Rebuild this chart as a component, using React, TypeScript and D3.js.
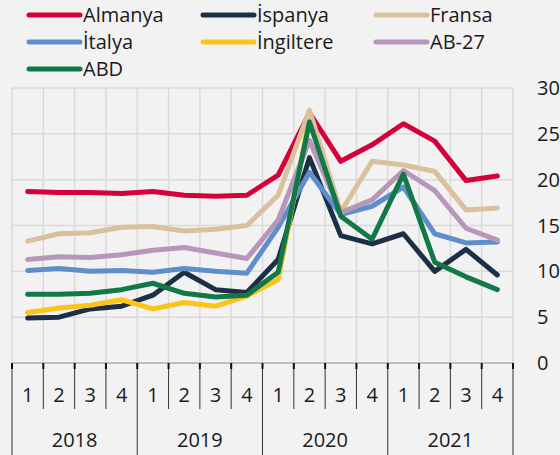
import * as d3 from "d3";

const WIDTH = 560;
const HEIGHT = 455;
const PLOT = { left: 12, right: 513, top: 88, bottom: 363 };

const quarters = ["1", "2", "3", "4"];
const years = ["2018", "2019", "2020", "2021"];
const yTicks = [0, 5, 10, 15, 20, 25, 30];

const almanya = [18.7, 18.6, 18.6, 18.5, 18.7, 18.3, 18.2, 18.3, 20.5, 27.3, 22.0, 23.8, 26.1, 24.2, 19.9, 20.4];
const ispanya = [4.9, 5.0, 5.9, 6.2, 7.4, 9.9, 8.0, 7.7, 11.3, 22.4, 13.9, 13.0, 14.1, 10.0, 12.4, 9.6];
const fransa = [13.3, 14.1, 14.2, 14.8, 14.9, 14.4, 14.6, 15.0, 18.3, 27.6, 16.5, 22.0, 21.6, 20.9, 16.7, 16.9];
const italya = [10.1, 10.3, 10.0, 10.1, 9.9, 10.3, 10.0, 9.8, 14.8, 20.8, 16.2, 17.1, 19.2, 14.1, 13.1, 13.2];
const ingiltere = [5.5, 6.0, 6.3, 6.9, 5.9, 6.6, 6.2, 7.3, 9.1, 26.8, 16.2];
const ab27 = [11.3, 11.6, 11.5, 11.8, 12.3, 12.6, 12.0, 11.4, 15.6, 24.3, 16.4, 17.8, 21.0, 18.8, 14.7, 13.4];
const abd = [7.5, 7.5, 7.6, 8.0, 8.7, 7.6, 7.2, 7.4, 9.9, 26.3, 16.0, 13.5, 20.6, 11.0, 9.4, 8.0];

const series = [
  { name: "Almanya", color: "#d5003a", values: almanya, col: 0, row: 0 },
  { name: "İspanya", color: "#1c2f45", values: ispanya, col: 1, row: 0 },
  { name: "İtalya", color: "#5e8fcb", values: italya, col: 0, row: 1 },
  { name: "İngiltere", color: "#fcc318", values: ingiltere, col: 1, row: 1 },
  { name: "Fransa", color: "#d9c19d", values: fransa, col: 2, row: 0 },
  { name: "AB-27", color: "#b797b9", values: ab27, col: 2, row: 1 },
  { name: "ABD", color: "#137848", values: abd, col: 0, row: 2 },
];

const FONT = "'Open Sans', 'Noto Sans', sans-serif";
const LEGEND_X = [29, 203, 376];
const LEGEND_Y = [15, 42, 69];

export default function App() {
  const periods = d3.range(years.length * quarters.length);

  const x = d3.scaleBand<number>().domain(periods).range([PLOT.left, PLOT.right]);
  const y = d3.scaleLinear().domain([0, 30]).range([PLOT.bottom, PLOT.top]);

  const line = d3
    .line<number>()
    .x((_, i) => (x(i) ?? 0) + x.bandwidth() / 2)
    .y((d) => y(d));

  // boundaries between quarters (17 of them)
  const bounds = d3.range(periods.length + 1).map((i) => PLOT.left + i * x.bandwidth());
  const bw = x.bandwidth();

  return (
    <svg
      width={WIDTH}
      height={HEIGHT}
      style={{ position: "absolute", top: 0, left: 0, background: "#f2f2f2" }}
      fontFamily={FONT}
    >
      {/* grid */}
      {yTicks.map((t) => (
        <line key={"h" + t} x1={PLOT.left} x2={PLOT.right} y1={y(t)} y2={y(t)} stroke="#dadada" strokeWidth={1.5} />
      ))}
      {bounds.map((b, i) => (
        <line key={"v" + i} x1={b} x2={b} y1={PLOT.top} y2={PLOT.bottom} stroke="#dadada" strokeWidth={1.5} />
      ))}
      <line x1={PLOT.left} x2={PLOT.right} y1={PLOT.bottom} y2={PLOT.bottom} stroke="#b5b5b5" strokeWidth={1.5} />

      {/* y axis labels */}
      {yTicks.map((t) => (
        <text key={"yl" + t} x={537} y={y(t)} dy="0.35em" fontSize={20} fill="#1a1a1a">
          {t}
        </text>
      ))}

      {/* x axis: quarter and year separators */}
      {bounds.map((b, i) => {
        const isYear = i % 4 === 0;
        return (
          <g key={"s" + i}>
            <line
              x1={b}
              x2={b}
              y1={PLOT.bottom}
              y2={isYear ? HEIGHT : 409}
              stroke="#333"
              strokeWidth={1}
            />
            <line x1={b} x2={b} y1={PLOT.bottom} y2={PLOT.bottom + 6} stroke="#111" strokeWidth={2} />
          </g>
        );
      })}
      {periods.map((p) => (
        <text
          key={"q" + p}
          x={(x(p) ?? 0) + bw / 2}
          y={395}
          dy="0.35em"
          textAnchor="middle"
          fontSize={20}
          fill="#1a1a1a"
        >
          {quarters[p % 4]}
        </text>
      ))}
      {years.map((yr, i) => (
        <text
          key={yr}
          x={PLOT.left + (i * 4 + 2) * bw}
          y={440}
          dy="0.35em"
          textAnchor="middle"
          fontSize={20}
          fill="#1a1a1a"
        >
          {yr}
        </text>
      ))}

      {/* lines */}
      {series.map((s) => (
        <path
          key={s.name}
          d={line(s.values) ?? ""}
          fill="none"
          stroke={s.color}
          strokeWidth={5}
          strokeLinejoin="round"
          strokeLinecap="round"
        />
      ))}

      {/* legend */}
      {series.map((s) => {
        const lx = LEGEND_X[s.col];
        const ly = LEGEND_Y[s.row];
        return (
          <g key={"lg" + s.name}>
            <line x1={lx} x2={lx + 51} y1={ly} y2={ly} stroke={s.color} strokeWidth={5} strokeLinecap="round" />
            <text x={lx + 54} y={ly} dy="0.35em" fontSize={20} fill="#1a1a1a">
              {s.name}
            </text>
          </g>
        );
      })}
    </svg>
  );
}
